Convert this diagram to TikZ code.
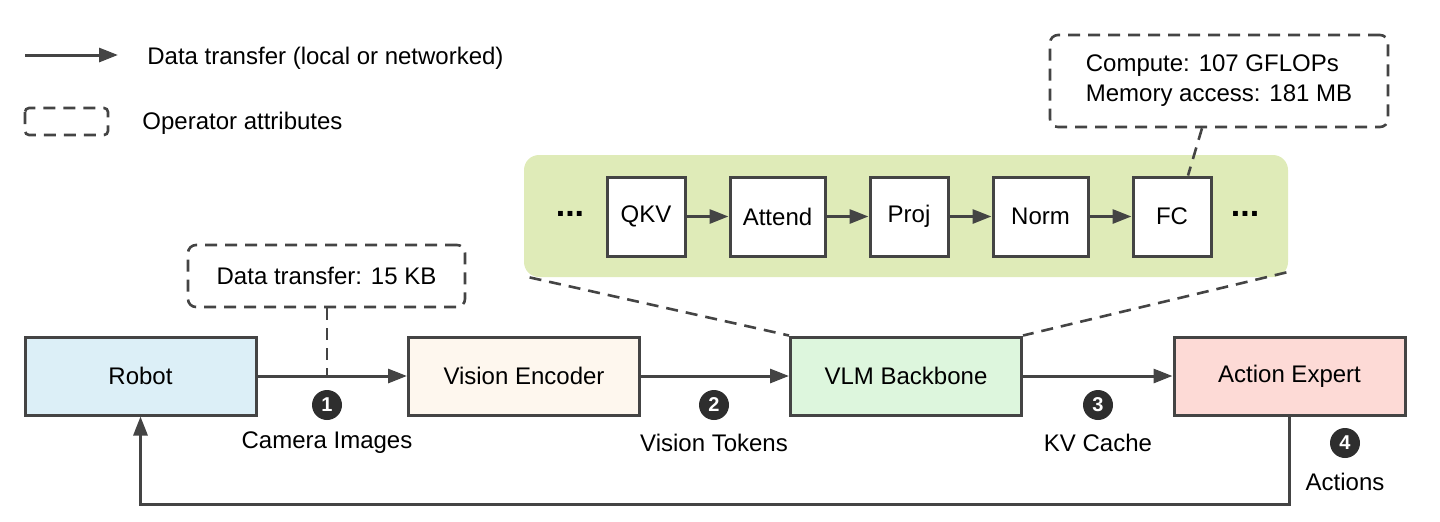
\documentclass[tikz,border=0pt]{standalone}
\usepackage{fontspec}
\setmainfont{Liberation Sans}
\usepackage{xcolor}
\usepackage{tikz}
\usetikzlibrary{arrows.meta, positioning}

\definecolor{linegray}{HTML}{444444}
\definecolor{robotblue}{HTML}{DCEFF7}
\definecolor{enccream}{HTML}{FEF7EE}
\definecolor{vlmgreen}{HTML}{DDF6DD}
\definecolor{actpink}{HTML}{FDDAD6}
\definecolor{panelgreen}{HTML}{DFEBB8}
\definecolor{badgegray}{HTML}{2E2E2E}

\begin{document}
\begin{tikzpicture}[
          x=0.5pt, y=-0.5pt,
          font=\fontsize{12}{15}\selectfont,
          node distance=21pt,
          box/.style={rectangle, draw=linegray, line width=1.5pt,
                      minimum width=115.5pt, minimum height=39pt,
                      align=center, inner sep=0pt},
          opbox/.style={rectangle, draw=linegray, fill=white, line width=1.5pt,
                        minimum width=39pt, minimum height=39.5pt, inner sep=0pt},
          attr/.style={rectangle, rounded corners=4pt, draw=linegray,
                       line width=1.3pt, dash pattern=on 6pt off 4pt,
                       align=left, inner sep=0pt},
          dashline/.style={draw=linegray, line width=1.3pt, dash pattern=on 6pt off 4pt},
          arr/.style={-{Triangle[length=9.5pt, width=7pt]}, line width=1.5pt, linegray},
          badge/.style={circle, fill=badgegray, text=white, inner sep=0pt,
                        minimum size=15pt, font=\fontsize{10}{10}\selectfont\bfseries},
          dots/.style={font=\fontsize{17}{17}\selectfont\bfseries, inner sep=0pt}]
  \useasboundingbox (0,0) rectangle (1440,521);

  % legend
  \coordinate (lga) at (25,55);
  \coordinate (lgb) at (118,55);
  \draw[arr] (lga) -- (lgb);
  \node[anchor=west, inner sep=0pt] (lgarrtxt) at (147,58) {Data transfer (local or networked)};
  \draw[dashline, rounded corners=2pt] (25,108) rectangle (108,135);
  \node[anchor=west, inner sep=0pt] (lgboxtxt) at (142,123) {Operator attributes};

  % operator chain inside the backbone
  \node[rectangle, rounded corners=7.5pt, fill=panelgreen,
        minimum width=382pt, minimum height=61pt] (panel) at (906,216) {};
  \node[opbox] (qkv) at (646,216.5) {QKV};
  \node[opbox, minimum width=47.5pt, right=of qkv] (attend) {Attend};
  \node[opbox, right=of attend] (proj) {Proj};
  \node[opbox, minimum width=47.5pt, right=of proj] (norm) {Norm};
  \node[opbox, right=of norm] (fc) {FC};
  \node[dots] (dotsl) at (570,214) {...};
  \node[dots] (dotsr) at (1245,214) {...};
  \draw[arr] (qkv) -- (attend); \draw[arr] (attend) -- (proj);
  \draw[arr] (proj) -- (norm); \draw[arr] (norm) -- (fc);

  % attribute boxes
  \node[attr, minimum width=169pt, minimum height=46pt] (fcattr) at (1219,81)
       {Compute: 107 GFLOPs\\Memory access: 181 MB};
  \node[attr, minimum width=138.5pt, minimum height=31pt] (xferattr) at (326.5,276)
       {Data transfer: 15 KB};

  % pipeline
  \node[box, fill=robotblue] (robot) at (140.5,376) {Robot};
  \node[box, fill=enccream]  (enc)   at (524,376)   {Vision Encoder};
  \node[box, fill=vlmgreen]  (vlm)   at (906,376)   {VLM Backbone};
  \node[box, fill=actpink]   (act)   at (1289.5,376) {Action Expert};

  \draw[dashline] ([xshift=3pt]panel.south west) -- (vlm.north west);
  \draw[dashline] ([xshift=-1pt,yshift=2.5pt]panel.south east) -- (vlm.north east);
  \draw[dashline] ([xshift=-8.5pt]fcattr.south) -- ([xshift=8pt]fc.north);
  \coordinate (tap) at (327,376);
  \draw[dashline] (xferattr.south -| tap) -- (tap);

  \draw[arr] (robot) -- (enc);
  \draw[arr] (enc) -- (vlm);
  \draw[arr] (vlm) -- (act);
  \draw[arr] (act.south) -- ++(0,88) -| (robot.south);

  % steps
  \node[badge] (one)   at (327,405)  {1};
  \node[badge] (two)   at (714,405)  {2};
  \node[badge] (three) at (1098,405) {3};
  \node[badge] (four)  at (1345,443) {4};
  \node (camtxt) at (327,443) {Camera Images};
  \node (toktxt) at (714,443) {Vision Tokens};
  \node (kvtxt)  at (1098,443) {KV Cache};
  \node (acttxt) at (1345,482) {Actions};
\end{tikzpicture}
\end{document}
